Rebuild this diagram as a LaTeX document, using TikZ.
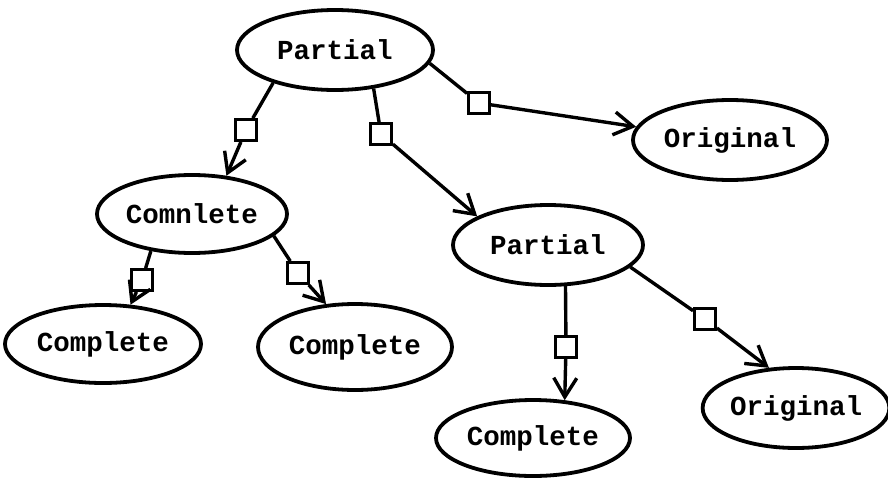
\documentclass[tikz,border=0pt]{standalone}
\usepackage{fontspec}
\setmonofont{Liberation Mono}
\usetikzlibrary{shapes.geometric,arrows.meta}
\begin{document}
\begin{tikzpicture}[x=1pt,y=-1pt,
  state/.style={ellipse,draw,line width=3.8pt,inner sep=0pt,minimum width=192pt,minimum height=78pt,
    font=\ttfamily\bfseries\fontsize{27.5}{30}\selectfont},
  sq/.style={draw,line width=2.8pt,minimum size=21pt,inner sep=0pt,fill=white},
  link/.style={line width=3.4pt},
  arr/.style={line width=3.4pt,-{Straight Barb[length=19pt,width=23pt]}}]
\useasboundingbox (0,0) rectangle (888,479);
\node[state,minimum width=196pt,minimum height=80pt] (p1) at (335,50) {Partial};
\node[state,minimum width=194pt,minimum height=80pt] (o1) at (730,140) {Original};
\node[state,minimum width=190pt,minimum height=78pt] (c1) at (192,214) {Comnlete};
\node[state,minimum width=190pt,minimum height=80pt] (p2) at (548,245) {Partial};
\node[state,minimum width=196pt,minimum height=78pt] (cl) at (103,344) {Complete};
\node[state,minimum width=194pt,minimum height=86pt] (cm) at (355,347) {Complete};
\node[state,minimum width=194pt,minimum height=76pt] (cb) at (533,438) {Complete};
\node[state,minimum width=186pt,minimum height=80pt] (or) at (796,408) {Original};
\node[sq] (s1) at (246,130) {};
\node[sq] (s2) at (381,134) {};
\node[sq] (s3) at (479,103) {};
\node[sq] (s4) at (142,280) {};
\node[sq] (s5) at (298,273) {};
\node[sq] (s6) at (566,347) {};
\node[sq] (s7) at (705,319) {};
\draw[link] (p1.208) -- (s1); \draw[arr] (s1) -- (c1.48);
\draw[link] (p1.315) -- (s2); \draw[arr] (s2) -- (p2.158);
\draw[link] (p1.352) -- (s3); \draw[arr] (s3) -- (o1.172);
\draw[link] (c1.222) -- (s4); \draw[arr] (s4) -- (cl.55);
\draw[link] (c1.345) -- (s5); \draw[arr] (s5) -- (cm.124);
\draw[link] (p2.293) -- (s6); \draw[arr] (s6) -- (cb.50);
\draw[link] (p2.345) -- (s7); \draw[arr] (s7) -- (or.124);
\end{tikzpicture}
\end{document}
